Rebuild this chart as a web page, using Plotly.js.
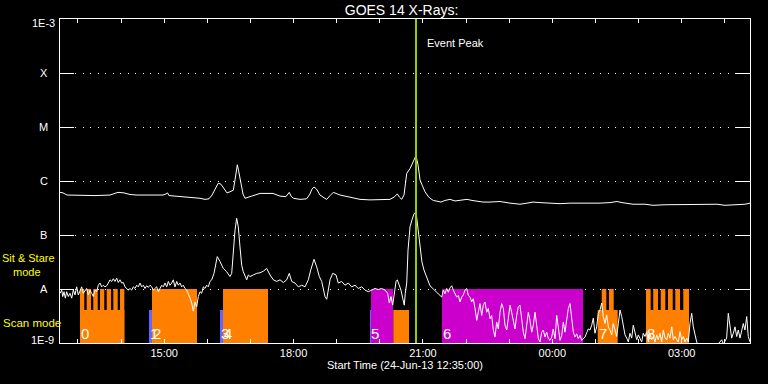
<!DOCTYPE html>
<html>
<head>
<meta charset="utf-8">
<script src="https://cdn.plot.ly/plotly-3.0.1.min.js"></script>
<style>html,body{margin:0;padding:0;background:#000;}#chart{width:768px;height:384px;}</style>
</head>
<body>
<div id="chart"></div>
<script>
// ---- time base: minutes after 24-Jun-2013 12:35:00 ----
const startTime = Date.UTC(2013, 5, 24, 12, 35, 0);
const spanMinutes = 960;

// GOES 14 long channel (1-8 A), log10 flux in W/m^2
const longMin = [0,4.2,9.7,27.8,48.7,69.6,75.1,80.7,89.0,97.4,107.1,125.2,143.3,147.5,149.6,151.7,160.0,173.9,187.8,194.8,201.7,207.3,211.5,215.7,220.2,224.0,228.2,232.3,236.5,241.1,243.5,245.6,246.7,248.3,250.4,252.8,254.6,257.4,266.7,278.3,288.0,296.3,306.1,314.4,319.0,321.4,324.6,333.9,343.2,347.8,350.6,353.4,356.9,361.7,367.3,371.1,375.7,380.2,384.0,389.6,403.5,417.4,431.3,445.2,459.1,464.7,469.3,472.3,475.4,478.6,480.7,482.4,487.0,491.5,495.3,498.1,500.9,504.3,507.8,512.0,514.8,519.4,524.5,530.1,535.6,542.6,549.6,556.5,566.3,573.2,581.6,588.5,598.3,612.2,626.1,640.0,649.7,658.1,667.8,681.7,695.7,709.6,723.5,737.4,751.3,765.2,775.0,781.9,797.2,813.9,825.0,841.7,855.7,866.8,883.5,897.4,914.1,925.2,936.3,946.1,953.0,960.0];
const longLog10 = [-6.21,-6.22,-6.26,-6.27,-6.27,-6.26,-6.23,-6.21,-6.22,-6.25,-6.26,-6.26,-6.26,-6.24,-6.22,-6.27,-6.28,-6.29,-6.30,-6.32,-6.34,-6.33,-6.26,-6.15,-6.04,-6.06,-6.15,-6.22,-6.20,-6.17,-5.98,-5.76,-5.70,-5.80,-5.98,-6.11,-6.24,-6.32,-6.28,-6.23,-6.23,-6.23,-6.28,-6.29,-6.21,-6.28,-6.32,-6.34,-6.33,-6.24,-6.15,-6.11,-6.15,-6.26,-6.31,-6.34,-6.27,-6.21,-6.23,-6.26,-6.30,-6.34,-6.35,-6.35,-6.34,-6.30,-6.24,-6.30,-6.34,-6.26,-6.06,-5.86,-5.77,-5.64,-5.53,-5.70,-5.98,-6.09,-6.20,-6.28,-6.32,-6.36,-6.38,-6.39,-6.36,-6.34,-6.37,-6.36,-6.34,-6.36,-6.38,-6.39,-6.39,-6.38,-6.41,-6.43,-6.41,-6.39,-6.40,-6.41,-6.42,-6.41,-6.41,-6.42,-6.41,-6.40,-6.38,-6.40,-6.43,-6.43,-6.45,-6.44,-6.44,-6.43,-6.44,-6.43,-6.43,-6.45,-6.44,-6.44,-6.43,-6.41];

// GOES 14 short channel (0.5-4 A), log10 flux in W/m^2
const shortMin = [0,2.4,3.8,5.6,7.4,9.3,11.5,13.9,16.3,18.5,20.9,23.2,25.5,27.8,30.2,32.4,34.8,37.1,39.4,41.7,44.1,46.3,48.7,51.1,53.3,55.7,58.0,60.2,62.6,65.0,67.2,69.6,71.9,74.2,76.5,78.9,81.1,83.5,85.8,88.1,90.4,92.8,95.0,97.4,99.8,102.0,104.3,106.7,108.9,111.3,113.7,115.9,118.3,120.6,122.9,125.2,127.6,129.8,132.2,134.5,136.8,139.1,141.5,143.7,146.1,148.5,150.7,153.0,155.4,157.6,160.0,162.4,164.6,167.0,169.3,171.5,173.9,176.3,178.5,180.9,183.2,185.5,187.8,190.2,192.4,194.8,197.1,199.4,201.7,204.1,206.3,208.7,211.1,214.3,217.0,218.8,222.6,227.2,231.9,236.5,238.9,241.1,243.5,245.8,248.1,250.4,252.8,255.0,257.4,259.8,262.0,264.3,268.9,273.7,278.3,282.9,287.6,289.8,292.2,296.8,301.5,306.1,310.7,315.4,319.0,322.4,327.0,331.5,336.3,340.9,345.5,348.8,353.4,357.1,360.8,364.1,368.7,371.1,375.7,379.4,384.0,387.2,391.9,396.5,401.1,405.8,410.4,415.0,419.8,424.3,428.9,433.7,438.3,442.9,447.6,452.2,455.9,458.2,460.5,462.9,465.1,467.5,469.3,471.7,474.4,476.8,479.0,480.4,482.4,484.2,487.0,489.7,492.5,495.3,498.1,500.9,503.6,506.4,510.2,514.8,519.4,524.1,528.7,531.1,533.3,535.6,538.0,540.2,542.6,545.0,547.2,549.6,551.9,554.2,556.5,558.9,561.1,563.5,565.8,568.1,570.5,572.8,575.0,577.4,579.8,582.0,584.3,586.7,588.9,591.3,593.7,595.9,598.3,600.6,602.9,605.2,607.6,609.8,612.2,614.5,616.8,619.1,621.5,623.7,626.1,628.4,630.7,633.0,635.4,637.6,640.0,642.4,644.6,647.0,649.3,651.6,653.9,656.3,658.5,660.9,663.2,665.5,667.8,670.2,672.4,674.8,677.1,679.4,681.7,684.1,686.3,688.7,691.1,693.3,695.7,698.0,700.3,702.6,705.0,707.2,709.6,711.9,714.2,716.5,718.9,721.1,723.5,725.8,728.1,730.4,732.8,735.0,737.4,739.8,742.0,744.3,746.7,748.9,751.3,753.7,755.9,758.3,760.6,762.9,765.2,767.6,769.8,772.2,774.5,776.8,779.1,781.5,783.7,786.1,788.5,790.7,793.0,795.4,797.6,800.0,802.4,804.6,807.0,809.3,811.5,813.9,816.3,818.5,820.9,823.2,825.5,827.8,830.2,832.4,834.8,837.1,839.4,841.7,844.1,846.3,848.7,851.1,853.3,855.7,858.0,860.2,862.6,865.0,867.2,869.6,871.9,874.2,876.5,878.9,881.1,883.5,885.8,888.1,897.4,911.3,920.6,922.9,927.5,929.8,932.2,934.5,936.8,939.1,941.5,943.7,946.1,948.5,950.7,953.0,955.4,957.6,960.0];
const shortLog10 = [-8.08,-8.02,-8.14,-8.05,-8.17,-8.05,-8.14,-8.08,-8.17,-8.02,-8.11,-7.96,-8.11,-8.05,-7.96,-8.08,-8.02,-7.99,-8.11,-8.02,-8.08,-8.14,-8.02,-8.05,-7.93,-7.89,-7.96,-7.93,-7.96,-7.94,-7.89,-7.83,-7.86,-7.81,-7.86,-7.80,-7.88,-7.83,-7.89,-7.88,-7.96,-7.99,-8.02,-7.99,-8.02,-7.96,-7.99,-7.93,-7.96,-7.89,-7.96,-7.93,-7.99,-7.94,-7.97,-7.93,-7.96,-8.02,-7.99,-7.96,-8.05,-7.99,-7.93,-7.96,-7.89,-7.96,-7.86,-7.93,-7.89,-7.83,-7.96,-7.86,-7.93,-7.89,-7.96,-7.93,-7.99,-8.02,-8.08,-8.17,-8.26,-8.41,-8.24,-8.33,-8.14,-8.05,-8.08,-7.96,-7.99,-7.93,-7.96,-7.86,-7.83,-7.71,-7.52,-7.40,-7.49,-7.62,-7.68,-7.77,-7.71,-7.28,-6.91,-6.69,-6.85,-7.22,-7.56,-7.68,-7.77,-7.83,-7.74,-7.77,-7.74,-7.71,-7.70,-7.67,-7.62,-7.68,-7.74,-7.83,-7.86,-7.83,-7.88,-7.83,-7.71,-7.86,-7.89,-7.96,-7.93,-7.96,-7.83,-7.65,-7.45,-7.59,-7.77,-7.86,-8.14,-8.19,-7.83,-7.71,-7.74,-7.89,-7.86,-7.93,-7.89,-7.96,-7.93,-7.99,-7.96,-8.02,-8.05,-8.02,-7.99,-8.01,-7.99,-8.02,-8.08,-8.26,-8.14,-8.30,-8.08,-7.86,-7.83,-7.93,-8.02,-8.17,-8.30,-8.08,-7.89,-7.28,-6.85,-6.72,-6.61,-6.57,-6.91,-7.28,-7.50,-7.65,-7.80,-7.94,-8.00,-8.06,-8.13,-8.15,-8.02,-8.09,-7.99,-8.06,-7.98,-7.94,-8.02,-8.09,-8.15,-8.12,-8.24,-8.15,-8.11,-8.02,-7.99,-8.12,-8.15,-8.24,-8.18,-8.36,-8.58,-8.43,-8.27,-8.49,-8.30,-8.24,-8.43,-8.36,-8.55,-8.49,-8.76,-8.89,-8.61,-8.74,-8.43,-8.27,-8.36,-8.67,-8.76,-8.55,-8.30,-8.43,-8.61,-8.74,-8.49,-8.33,-8.30,-8.55,-8.80,-8.92,-8.67,-8.43,-8.58,-8.80,-8.67,-8.43,-8.67,-8.92,-8.98,-8.80,-8.76,-8.89,-8.80,-8.92,-8.95,-8.89,-8.74,-8.92,-8.49,-8.76,-8.95,-8.86,-8.61,-8.80,-8.55,-8.36,-8.27,-8.61,-8.80,-8.89,-8.83,-8.92,-8.86,-8.95,-8.92,-8.89,-8.81,-8.74,-8.76,-8.67,-8.54,-8.82,-8.70,-8.45,-8.39,-8.26,-8.51,-8.64,-8.48,-8.70,-8.76,-8.85,-8.64,-8.76,-8.88,-8.64,-8.39,-8.51,-8.70,-8.85,-8.91,-8.98,-8.82,-8.91,-8.67,-8.82,-8.94,-8.85,-8.91,-8.98,-8.82,-8.88,-8.79,-8.98,-8.82,-8.94,-8.88,-8.98,-8.85,-8.94,-8.82,-8.98,-8.76,-8.91,-8.94,-8.82,-8.91,-8.70,-8.94,-8.88,-8.94,-8.98,-8.79,-8.94,-8.88,-8.98,-8.91,-8.98,-8.64,-8.45,-8.70,-8.85,-8.98,-9.04,-9.09,-9.09,-8.94,-9.02,-8.91,-8.45,-8.70,-8.91,-8.82,-8.70,-8.88,-8.76,-8.91,-8.79,-8.64,-8.76,-8.51,-8.88,-8.98];

// Observation timeline (minutes after start): [start, end]
const orangeScan = [[27.8,89.5],[463.7,485.6],[748.1,775.9],[815.3,875.1]];
const orangeSit = [[27.8,33.8],[37.1,43.1],[46.3,52.5],[55.7,61.6],[65.0,71.0],[74.2,80.3],[83.5,89.5],[128.0,190.6],[226.8,289.4],[753.7,760.1],[763.8,770.4],[815.3,821.8],[825.4,832.0],[835.8,842.2],[845.9,852.5],[856.1,862.6],[867.2,875.1]];
const magentaSit = [[432.7,463.3],[531.5,727.7]];
const blueScan = [[123.8,128.0],[222.6,226.8],[431.3,432.7]];
const sitLevel = 1e-8;      // "Sit & Stare mode" bar height
const scanLevel = 4.1e-9;   // "Scan mode" bar height
const floorLevel = 1e-9;

const obsLabels = ['0','1','2','3','4','5','6','7','8'];
const obsLabelMin = [27.8,123.8,128.0,222.6,226.8,431.3,531.5,748.1,815.3];

const eventPeakMin = 495.3;

// axis labels
const tickLabelsX = ['','','15:00','','','18:00','','','21:00','','','00:00','','','03:00',''];
const firstTickMin = 25; // 13:00
const yLetterLabels = ['A','B','C','M','X'];
const yLetterExp = [-8,-7,-6,-5,-4];

const toTime = m => startTime + m * 60000;

function polys(intervals, top) {
  const xs = [], ys = [];
  intervals.forEach(([s, e]) => {
    xs.push(toTime(s), toTime(s), toTime(e), toTime(e), toTime(s), null);
    ys.push(floorLevel, top, top, floorLevel, floorLevel, null);
  });
  return {x: xs, y: ys};
}
function blockTrace(intervals, top, color) {
  const p = polys(intervals, top);
  return {x: p.x, y: p.y, type: 'scatter', mode: 'lines', fill: 'toself',
          fillcolor: color, line: {width: 0, color: color}, hoverinfo: 'skip'};
}

const traces = [
  blockTrace(orangeScan, scanLevel, '#ff8000'),
  blockTrace(orangeSit, sitLevel, '#ff8000'),
  blockTrace(magentaSit, sitLevel, '#cc00cc'),
  blockTrace(blueScan, scanLevel, '#6464ff'),
  {x: longMin.map(toTime), y: longLog10.map(v => Math.pow(10, v)), type: 'scatter', mode: 'lines',
   line: {color: '#ffffff', width: 1}},
  {x: shortMin.map(toTime), y: shortLog10.map(v => Math.pow(10, v)), type: 'scatter', mode: 'lines',
   line: {color: '#ffffff', width: 1}}
];

const font = 'Liberation Sans, Arial, sans-serif';
const tickVals = tickLabelsX.map((_, i) => toTime(firstTickMin + 60 * i));

const annotations = [];
// y axis labels
annotations.push({text: '1E-3', xref: 'paper', yref: 'paper', x: -0.0043, y: 0.9877, xanchor: 'right', yanchor: 'middle', showarrow: false, font: {family: font, size: 11, color: '#fff'}});
annotations.push({text: '1E-9', xref: 'paper', yref: 'paper', x: -0.0058, y: 0.0093, xanchor: 'right', yanchor: 'middle', showarrow: false, font: {family: font, size: 11, color: '#fff'}});
yLetterLabels.forEach((t, i) => annotations.push({text: t, xref: 'paper', yref: 'y', x: -0.0232, y: yLetterExp[i], xanchor: 'center', yanchor: 'middle', showarrow: false, font: {family: font, size: 11, color: '#fff'}}));
// mode labels
annotations.push({text: 'Sit & Stare', xref: 'paper', yref: 'paper', x: -0.0855, y: 0.2610, xanchor: 'left', yanchor: 'middle', showarrow: false, borderpad: 0, font: {family: font, size: 11, color: '#ffff00'}});
annotations.push({text: 'mode', xref: 'paper', yref: 'paper', x: -0.0696, y: 0.2205, xanchor: 'left', yanchor: 'middle', showarrow: false, borderpad: 0, font: {family: font, size: 11, color: '#ffff00'}});
annotations.push({text: 'Scan mode', xref: 'paper', yref: 'paper', x: -0.0855, y: 0.0617, xanchor: 'left', yanchor: 'middle', showarrow: false, font: {family: font, size: 11.5, color: '#ffff00'}});
// event peak label
annotations.push({text: 'Event Peak', xref: 'x', yref: 'paper', x: toTime(eventPeakMin), xshift: 9, y: 0.9259, xanchor: 'left', yanchor: 'middle', showarrow: false, font: {family: font, size: 11, color: '#fff'}});
// observation numbers
obsLabels.forEach((t, i) => annotations.push({text: t, xref: 'x', yref: 'y', x: toTime(obsLabelMin[i]), y: -8.815, xanchor: 'left', yanchor: 'middle', xshift: -1, showarrow: false, font: {family: font, size: 15, color: '#fff'}}));

const layout = {
  width: 768, height: 384,
  margin: {l: 60, r: 18, t: 19, b: 41},
  paper_bgcolor: '#000', plot_bgcolor: '#000',
  showlegend: false,
  title: {text: 'GOES 14 X-Rays:', font: {family: font, size: 14, color: '#fff'}, x: 0.495, xref: 'paper', xanchor: 'center', y: 1 - 10/384, yref: 'container', yanchor: 'middle'},
  xaxis: {
    type: 'date', range: [toTime(0), toTime(spanMinutes)],
    tickmode: 'array', tickvals: tickVals, ticktext: tickLabelsX,
    ticks: 'inside', ticklen: 4, tickwidth: 1, tickcolor: '#fff',
    showline: true, linecolor: '#fff', linewidth: 1, mirror: 'allticks',
    showgrid: false, zeroline: false,
    tickfont: {family: font, size: 11, color: '#fff'},
    title: {text: 'Start Time (24-Jun-13 12:35:00)', font: {family: font, size: 11, color: '#fff'}, standoff: 3}
  },
  yaxis: {
    type: 'log', range: [-9, -3],
    tickmode: 'array', tickvals: [1e-9, 1e-8, 1e-7, 1e-6, 1e-5, 1e-4, 1e-3],
    showticklabels: false,
    ticks: 'inside', ticklen: 14, tickwidth: 1, tickcolor: '#fff',
    showline: true, linecolor: '#fff', linewidth: 1, mirror: 'allticks',
    showgrid: true, gridcolor: '#fff', gridwidth: 1, griddash: '1px,6.5px',
    zeroline: false
  },
  shapes: [{type: 'line', xref: 'x', yref: 'paper', x0: toTime(eventPeakMin), x1: toTime(eventPeakMin), y0: 0, y1: 1, line: {color: '#99cc00', width: 2}}],
  annotations: annotations
};

Plotly.newPlot('chart', traces, layout, {displayModeBar: false, staticPlot: true});
</script>
</body>
</html>
